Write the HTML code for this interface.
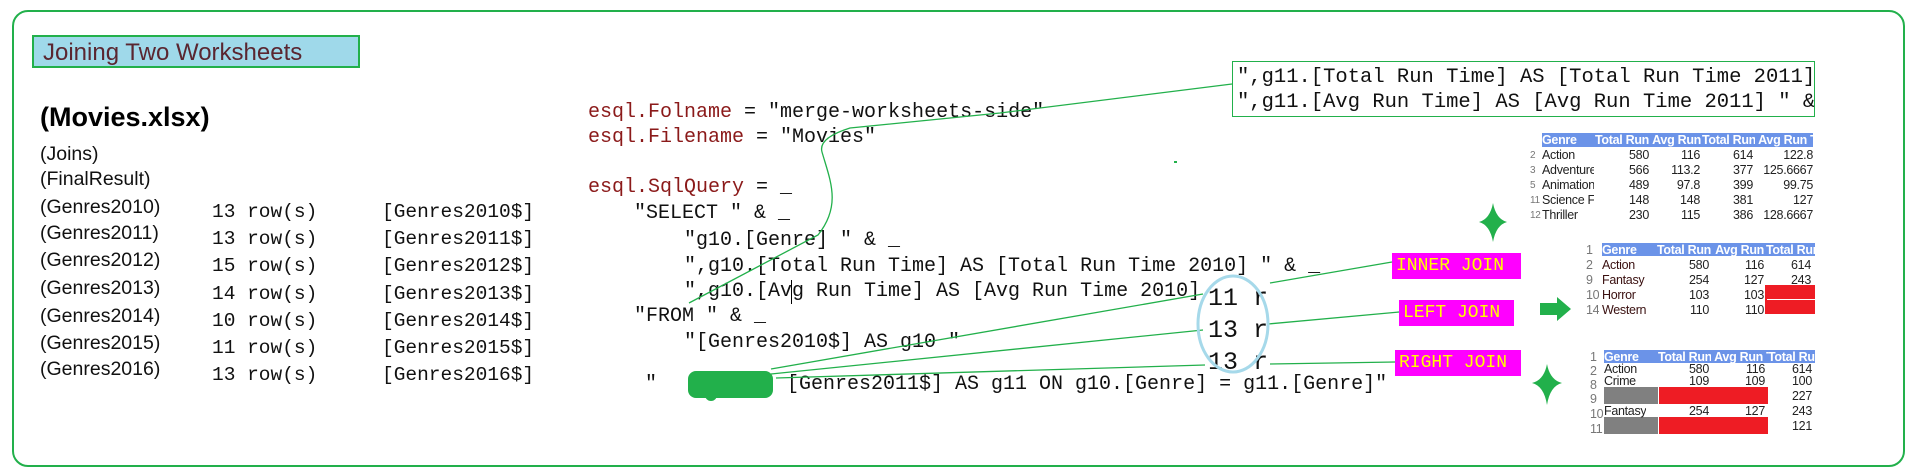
<!DOCTYPE html>
<html><head><meta charset="utf-8"><style>
body{margin:0;width:1915px;height:475px;background:#fff;position:relative;overflow:hidden;font-family:"Liberation Sans",sans-serif}
.a{position:absolute;white-space:pre;line-height:1}
.m{font-family:"Liberation Mono",monospace}
.c{font-family:"Liberation Mono",monospace;font-size:20px;color:#111}
.r{color:#8b1a1a}
.l{font-size:19.5px;color:#111}
.lab{position:absolute;background:#ff00ff;color:#ffff00;font-family:"Liberation Mono",monospace;font-size:18px;line-height:26px;padding-left:4px;white-space:pre}
.t{position:absolute;font-size:12.5px;font-family:"Liberation Sans",sans-serif;color:#222;letter-spacing:-0.3px}
.t div{position:absolute;white-space:nowrap;overflow:hidden;line-height:14px}
</style></head><body>
<div style="position:absolute;left:12px;top:10px;width:1889px;height:453px;border:2px solid #22b04b;border-radius:16px"></div>
<div class="a" style="left:32px;top:35px;width:328px;height:33px;background:#9fd9ea;border:2px solid #22b04b;font-size:24px;color:#5a2630;line-height:31px;padding-left:9px;box-sizing:border-box">Joining Two Worksheets</div>
<div class="a" style="left:40px;top:104px;font-size:27px;font-weight:bold;color:#000">(Movies.xlsx)</div>
<div class="a l" style="left:40px;top:145px">(Joins)</div>
<div class="a l" style="left:40px;top:170px">(FinalResult)</div>
<div class="a l" style="left:40px;top:198px">(Genres2010)</div>
<div class="a l" style="left:40px;top:224px">(Genres2011)</div>
<div class="a l" style="left:40px;top:251px">(Genres2012)</div>
<div class="a l" style="left:40px;top:279px">(Genres2013)</div>
<div class="a l" style="left:40px;top:307px">(Genres2014)</div>
<div class="a l" style="left:40px;top:334px">(Genres2015)</div>
<div class="a l" style="left:40px;top:360px">(Genres2016)</div>
<div class="a m" style="left:212px;top:199px;font-size:19.5px;line-height:27.2px;color:#111">13 row(s)
13 row(s)
15 row(s)
14 row(s)
10 row(s)
11 row(s)
13 row(s)</div>
<div class="a m" style="left:382px;top:199px;font-size:19.5px;line-height:27.2px;color:#111">[Genres2010$]
[Genres2011$]
[Genres2012$]
[Genres2013$]
[Genres2014$]
[Genres2015$]
[Genres2016$]</div>

<div class="a c" style="left:588px;top:103px"><span class="r">esql.Folname</span> = "merge-worksheets-side"</div>
<div class="a c" style="left:588px;top:128px"><span class="r">esql.Filename</span> = "Movies"</div>
<div class="a c" style="left:588px;top:178px"><span class="r">esql.SqlQuery</span> = _</div>
<div class="a c" style="left:634px;top:204px">"SELECT " &amp; _</div>
<div class="a c" style="left:684px;top:231px">"g10.[Genre] " &amp; _</div>
<div class="a c" style="left:684px;top:257px">",g10.[Total Run Time] AS [Total Run Time 2010] " &amp; _</div>
<div class="a c" style="left:684px;top:282px">",g10.[Avg Run Time] AS [Avg Run Time 2010]</div>
<div class="a" style="left:791px;top:280px;width:1px;height:24px;background:#000"></div>
<div class="a c" style="left:634px;top:307px">"FROM " &amp; _</div>
<div class="a c" style="left:684px;top:333px">"[Genres2010$] AS g10 "</div>
<div class="a c" style="left:645px;top:375px">"</div>
<div class="a c" style="left:787px;top:375px">[Genres2011$] AS g11 ON g10.[Genre] = g11.[Genre]"</div>
<div class="a" style="left:688px;top:371px;width:85px;height:27px;background:#22b04b;border-radius:8px"></div>
<div class="a" style="left:705px;top:395px;width:12px;height:6px;background:#22b04b;border-radius:0 0 6px 6px"></div>

<div class="a m" style="left:1208px;top:283px;font-size:25px;line-height:32px;color:#111">11 r
13 r
13 r</div>

<div class="a" style="left:1232px;top:61px;width:583px;height:56px;border:1.5px solid #22b04b;box-sizing:border-box;overflow:hidden;background:#fff">
<div class="a c" style="left:4px;top:6px;font-size:20.5px">",g11.[Total Run Time] AS [Total Run Time 2011]</div>
<div class="a c" style="left:4px;top:31px;font-size:20.5px">",g11.[Avg Run Time] AS [Avg Run Time 2011] " &amp;</div>
</div>

<div class="lab" style="left:1392px;top:253px;width:125px">INNER JOIN</div>
<div class="lab" style="left:1399px;top:300px;width:111px">LEFT JOIN</div>
<div class="lab" style="left:1395px;top:350px;width:122px">RIGHT JOIN</div>

<svg width="1915" height="475" style="position:absolute;left:0;top:0" fill="none">
<g stroke="#22b04b" stroke-width="1.3">
<path d="M1232,84 L1000,113 L850,128 Q818,138 822,152 C830,180 842,205 818,235 L689,303"/>
<path d="M771,369 L1203,294"/>
<path d="M771,374 L1203,330"/>
<path d="M776,378 L1205,365"/>
<path d="M1270,283 L1392,262"/>
<path d="M1268,324 L1399,312"/>
<path d="M1270,364 L1395,362"/>
</g>
<ellipse cx="1233" cy="324" rx="35" ry="48" stroke="#a6d9ea" stroke-width="3"/>
<rect x="1174" y="161" width="3" height="2" fill="#22b04b"/>
<path d="M1493,203 Q1496,219 1507,222 Q1496,225 1493,242 Q1490,225 1479,222 Q1490,219 1493,203Z" fill="#22b04b"/>
<path d="M1547,364 Q1550,380 1562,383 Q1550,386 1547,405 Q1544,386 1532,383 Q1544,380 1547,364Z" fill="#22b04b"/>
<path d="M1540,303 L1557,303 L1557,297 L1571,309 L1557,321 L1557,315 L1540,315Z" fill="#22b04b"/>
</svg>

<!-- table 1 -->
<div class="t" style="left:1530px;top:133px;width:283px;height:90px;overflow:hidden">
<div style="left:12px;top:0;width:271px;height:14px;background:#6b93e8"></div>
<div style="left:12px;top:0;color:#fff;font-weight:bold;width:52px">Genre</div>
<div style="left:64px;top:0;color:#fff;font-weight:bold;width:55px;text-align:right">Total Run</div>
<div style="left:119px;top:0;color:#fff;font-weight:bold;width:53px">&nbsp;Avg Run T</div>
<div style="left:172px;top:0;color:#fff;font-weight:bold;width:53px">Total Run</div>
<div style="left:225px;top:0;color:#fff;font-weight:bold;width:58px">&nbsp;Avg Run T</div>
<div style="left:0;top:15px;color:#777;line-height:15px;font-size:10px">2<br>3<br>5<br>11<br>12</div>
<div style="left:12px;top:15px;line-height:15px;width:52px">Action<br>Adventure<br>Animation<br>Science Fic<br>Thriller</div>
<div style="left:64px;top:15px;line-height:15px;width:55px;text-align:right">580<br>566<br>489<br>148<br>230</div>
<div style="left:119px;top:15px;line-height:15px;width:51px;text-align:right">116<br>113.2<br>97.8<br>148<br>115</div>
<div style="left:172px;top:15px;line-height:15px;width:51px;text-align:right">614<br>377<br>399<br>381<br>386</div>
<div style="left:225px;top:15px;line-height:15px;width:58px;text-align:right">122.8<br>125.6667<br>99.75<br>127<br>128.6667</div>
</div>
<!-- table 2 -->
<div class="t" style="left:1586px;top:243px;width:229px;height:71px;overflow:hidden">
<div style="left:16px;top:0;width:213px;height:13px;background:#6b93e8"></div>
<div style="left:0;top:0;color:#777;line-height:15px">1<br>2<br>9<br>10<br>14</div>
<div style="left:16px;top:0;color:#fff;font-weight:bold">Genre</div>
<div style="left:71px;top:0;color:#fff;font-weight:bold;width:54px;text-align:right">Total Run</div>
<div style="left:126px;top:0;color:#fff;font-weight:bold;width:54px">&nbsp;Avg Run T</div>
<div style="left:180px;top:0;color:#fff;font-weight:bold">Total Run</div>
<div style="left:179px;top:42px;width:50px;height:29px;background:#ee1c24"></div>
<div style="left:181px;top:56px;width:48px;height:1px;background:#fff"></div>
<div style="left:16px;top:15px;line-height:15px;color:#3a1010">Action<br>Fantasy<br>Horror<br>Western</div>
<div style="left:71px;top:15px;line-height:15px;width:52px;text-align:right">580<br>254<br>103<br>110</div>
<div style="left:126px;top:15px;line-height:15px;width:52px;text-align:right">116<br>127<br>103<br>110</div>
<div style="left:180px;top:15px;line-height:15px;width:45px;text-align:right">614<br>243</div>
</div>
<!-- table 3 -->
<div class="t" style="left:1590px;top:350px;width:225px;height:84px;overflow:hidden">
<div style="left:14px;top:0;width:211px;height:13px;background:#6b93e8"></div>
<div style="left:0;top:0;color:#777;line-height:14px">1<br>2<br>8</div>
<div style="left:0;top:42px;color:#777;line-height:15px">9<br>10<br>11</div>
<div style="left:14px;top:0;color:#fff;font-weight:bold">Genre</div>
<div style="left:68px;top:0;color:#fff;font-weight:bold;width:53px;text-align:right">Total Run</div>
<div style="left:121px;top:0;color:#fff;font-weight:bold;width:57px">&nbsp;Avg Run T</div>
<div style="left:178px;top:0;color:#fff;font-weight:bold">Total Run</div>
<div style="left:14px;top:37px;width:54px;height:17px;background:#808080"></div>
<div style="left:69px;top:37px;width:109px;height:17px;background:#ee1c24"></div>
<div style="left:14px;top:67px;width:54px;height:17px;background:#808080"></div>
<div style="left:69px;top:67px;width:109px;height:17px;background:#ee1c24"></div>
<div style="left:14px;top:13px;line-height:12px">Action<br>Crime</div>
<div style="left:68px;top:13px;line-height:12px;width:51px;text-align:right">580<br>109</div>
<div style="left:121px;top:13px;line-height:12px;width:54px;text-align:right">116<br>109</div>
<div style="left:178px;top:13px;line-height:12px;width:44px;text-align:right">614<br>100</div>
<div style="left:178px;top:39px;width:44px;text-align:right">227</div>
<div style="left:14px;top:54px">Fantasy</div>
<div style="left:68px;top:54px;width:51px;text-align:right">254</div>
<div style="left:121px;top:54px;width:54px;text-align:right">127</div>
<div style="left:178px;top:54px;width:44px;text-align:right">243</div>
<div style="left:178px;top:69px;width:44px;text-align:right">121</div>
</div>
</body></html>
